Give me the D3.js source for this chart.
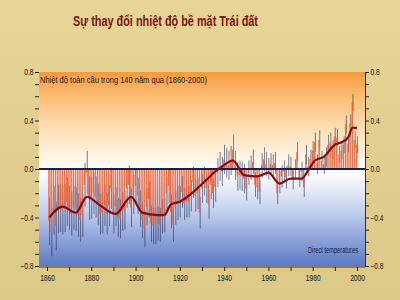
<!DOCTYPE html>
<html>
<head>
<meta charset="utf-8">
<script src="https://cdn.jsdelivr.net/npm/d3@7"></script>
<style>
body{margin:0;padding:0;background:#dfcc8e;}
svg{display:block;}
text{font-family:"Liberation Sans",Arial,sans-serif;}
</style>
</head>
<body>
<div id="graphHolder"></div>
<script>
// annual anomalies 1861-2000 (deg C)
var startYear = 1861;
var anomalies = [
-0.43,-0.52,-0.34,-0.47,-0.33,-0.32,-0.34,-0.32,-0.27,-0.32,
-0.37,-0.32,-0.33,-0.38,-0.42,-0.38,-0.13,-0.03,-0.24,-0.24,
-0.20,-0.23,-0.29,-0.37,-0.36,-0.30,-0.37,-0.30,-0.16,-0.37,
-0.31,-0.40,-0.41,-0.35,-0.34,-0.16,-0.13,-0.32,-0.21,-0.14,
-0.22,-0.33,-0.42,-0.49,-0.31,-0.25,-0.45,-0.47,-0.47,-0.45,
-0.46,-0.39,-0.38,-0.20,-0.14,-0.35,-0.46,-0.32,-0.28,-0.27,
-0.19,-0.29,-0.27,-0.27,-0.22,-0.11,-0.22,-0.20,-0.36,-0.16,
-0.10,-0.16,-0.29,-0.13,-0.20,-0.15,-0.03,0.02,-0.02,0.08,
0.05,0.03,0.07,0.16,0.03,-0.06,-0.05,-0.06,-0.08,-0.16,
-0.03,0.01,0.06,-0.13,-0.15,-0.19,0.03,0.08,0.04,0.00,
0.04,0.03,0.05,-0.20,-0.11,-0.06,-0.02,-0.07,0.03,0.02,
-0.09,0.00,0.14,-0.07,-0.02,-0.15,0.12,0.02,0.08,0.15,
0.22,0.04,0.24,0.07,0.04,0.10,0.20,0.22,0.16,0.27,
0.26,0.12,0.15,0.20,0.37,0.21,0.38,0.55,0.24,0.20
];
// half width of the uncertainty whisker per decade (1860s .. 2000)
var decadeError = [0.2,0.18,0.17,0.16,0.15,0.14,0.13,0.12,0.12,0.1,0.09,0.08,0.08,0.07,0.07];
// smoothed curve
var smoothYears = [1861,1867,1873,1878,1884,1891,1898,1903,1910,1913,1916,1920,1926,1932,1936,1939,1944,1949,1955,1960,1965,1970,1975,1978,1981,1985,1990,1993,1996,1998,2000];
var smoothVals  = [-0.40,-0.31,-0.36,-0.23,-0.30,-0.37,-0.23,-0.36,-0.38,-0.38,-0.29,-0.27,-0.19,-0.09,-0.02,0.02,0.07,-0.05,-0.06,-0.03,-0.12,-0.08,-0.08,-0.01,0.07,0.10,0.20,0.22,0.26,0.34,0.34];
var yTicks = [-0.8,-0.4,0.0,0.4,0.8];
var xTicks = [1860,1880,1900,1920,1940,1960,1980,2000];

var W = 400, H = 300;
var plotLeft = 39, plotRight = 365, plotTop = 72, plotBottom = 266;

var svg = d3.select("#graphHolder").append("svg")
	.attr("width",W).attr("height",H);

var defs = svg.append("defs");
var bg = defs.append("linearGradient").attr("id","bgGrad")
	.attr("x1",0).attr("y1",0).attr("x2",0).attr("y2",1);
bg.append("stop").attr("offset","0%").attr("stop-color","#e6d596");
bg.append("stop").attr("offset","100%").attr("stop-color","#dcc887");

var pg = defs.append("linearGradient").attr("id","plotGrad")
	.attr("x1",0).attr("y1",0).attr("x2",0).attr("y2",1);
pg.append("stop").attr("offset","0%").attr("stop-color","#f79a3c");
pg.append("stop").attr("offset","12%").attr("stop-color","#fbbb72");
pg.append("stop").attr("offset","30%").attr("stop-color","#fde0b8");
pg.append("stop").attr("offset","47%").attr("stop-color","#fff8ee");
pg.append("stop").attr("offset","53%").attr("stop-color","#fbfcff");
pg.append("stop").attr("offset","70%").attr("stop-color","#c9d4f0");
pg.append("stop").attr("offset","100%").attr("stop-color","#5b79c6");

svg.append("rect").attr("width",W).attr("height",H).style("fill","url(#bgGrad)");

var x = d3.scaleLinear().domain([1860,2000]).range([47,357]);
var y = d3.scaleLinear().domain([-0.8,0.8]).range([plotBottom,plotTop]);

svg.append("rect")
	.attr("x",plotLeft).attr("y",plotTop)
	.attr("width",plotRight-plotLeft).attr("height",plotBottom-plotTop)
	.style("fill","url(#plotGrad)");

// whiskers
svg.append("g").selectAll("line")
	.data(anomalies)
	.enter()
	.append("line")
	.attr("x1",function(d,i){return x(startYear+i)+0.4;})
	.attr("x2",function(d,i){return x(startYear+i)+0.4;})
	.attr("y1",function(d,i){return y(d+decadeError[Math.floor((startYear+i-1860)/10)]);})
	.attr("y2",function(d,i){return y(d-decadeError[Math.floor((startYear+i-1860)/10)]);})
	.style("stroke","#1d2650")
	.style("stroke-width",0.7)
	.style("opacity",0.85);

// bars
svg.append("g").selectAll("rect")
	.data(anomalies)
	.enter()
	.append("rect")
	.attr("x",function(d,i){return x(startYear+i)-1;})
	.attr("width",1.5)
	.attr("y",function(d){return Math.min(y(d),y(0));})
	.attr("height",function(d){return Math.abs(y(d)-y(0));})
	.style("fill","#ec6238")
	.style("opacity",0.9);

// zero line
svg.append("line")
	.attr("x1",plotLeft).attr("x2",plotRight)
	.attr("y1",y(0)).attr("y2",y(0))
	.style("stroke","#17204a").style("stroke-width",2);

// smoothed curve
var smooth = smoothYears.map(function(d,i){return [d,smoothVals[i]];});
var line = d3.line()
	.x(function(d){return x(d[0]);})
	.y(function(d){return y(d[1]);})
	.curve(d3.curveMonotoneX);
svg.append("path")
	.datum(smooth)
	.attr("d",line)
	.style("fill","none")
	.style("stroke","#860c0c")
	.style("stroke-width",2.2);

// axes
function fmtY(d){
	return yTicks.some(function(t){return Math.abs(t-d)<1e-6;}) ? d3.format(".1f")(d) : "";
}
var yAxisL = d3.axisLeft(y).tickValues(d3.range(-8,9).map(function(v){return v/10;}))
	.tickSize(4).tickFormat(fmtY);
var yAxisR = d3.axisRight(y).tickValues(d3.range(-8,9).map(function(v){return v/10;}))
	.tickSize(4).tickFormat(fmtY);
var xAxis = d3.axisBottom(x).tickValues(d3.range(1860,2001,10))
	.tickSize(4).tickFormat(function(d){return xTicks.indexOf(d)>=0 ? d : "";});

var gl = svg.append("g").attr("transform","translate("+plotLeft+",0)").call(yAxisL);
var gr = svg.append("g").attr("transform","translate("+plotRight+",0)").call(yAxisR);
var gx = svg.append("g").attr("transform","translate(0,"+(plotBottom+1)+")").call(xAxis);
gx.select(".domain").attr("d","M"+plotLeft+",0H"+plotRight);
[gl,gr,gx].forEach(function(g){
	g.selectAll(".domain").style("stroke","#333");
	g.selectAll(".tick line").style("stroke","#222");
	g.selectAll("text").style("font-size","8.5px").style("fill","#111")
		.style("font-family","'Liberation Sans',Arial,sans-serif")
		.attr("transform","scale(0.78,1)");
});
gl.select(".domain").remove();
gx.selectAll("text").attr("dy","0.85em");

// texts
svg.append("text")
	.text("Sự thay đổi nhiệt độ bề mặt Trái đất")
	.attr("x",73).attr("y",26)
	.attr("textLength",185).attr("lengthAdjust","spacingAndGlyphs")
	.style("font-size","15px").style("font-weight","bold")
	.style("fill","#7e1212");

svg.append("text")
	.text("Nhiệt độ toàn cầu trong 140 năm qua (1860-2000)")
	.attr("x",40).attr("y",83)
	.attr("textLength",167).attr("lengthAdjust","spacingAndGlyphs")
	.style("font-size","9.5px").style("fill","#1a1a1a");

svg.append("text")
	.text("Direct temperatures")
	.attr("x",308).attr("y",253)
	.attr("textLength",50).attr("lengthAdjust","spacingAndGlyphs")
	.style("font-size","8.5px").style("fill","#14204a");
</script>
</body>
</html>
